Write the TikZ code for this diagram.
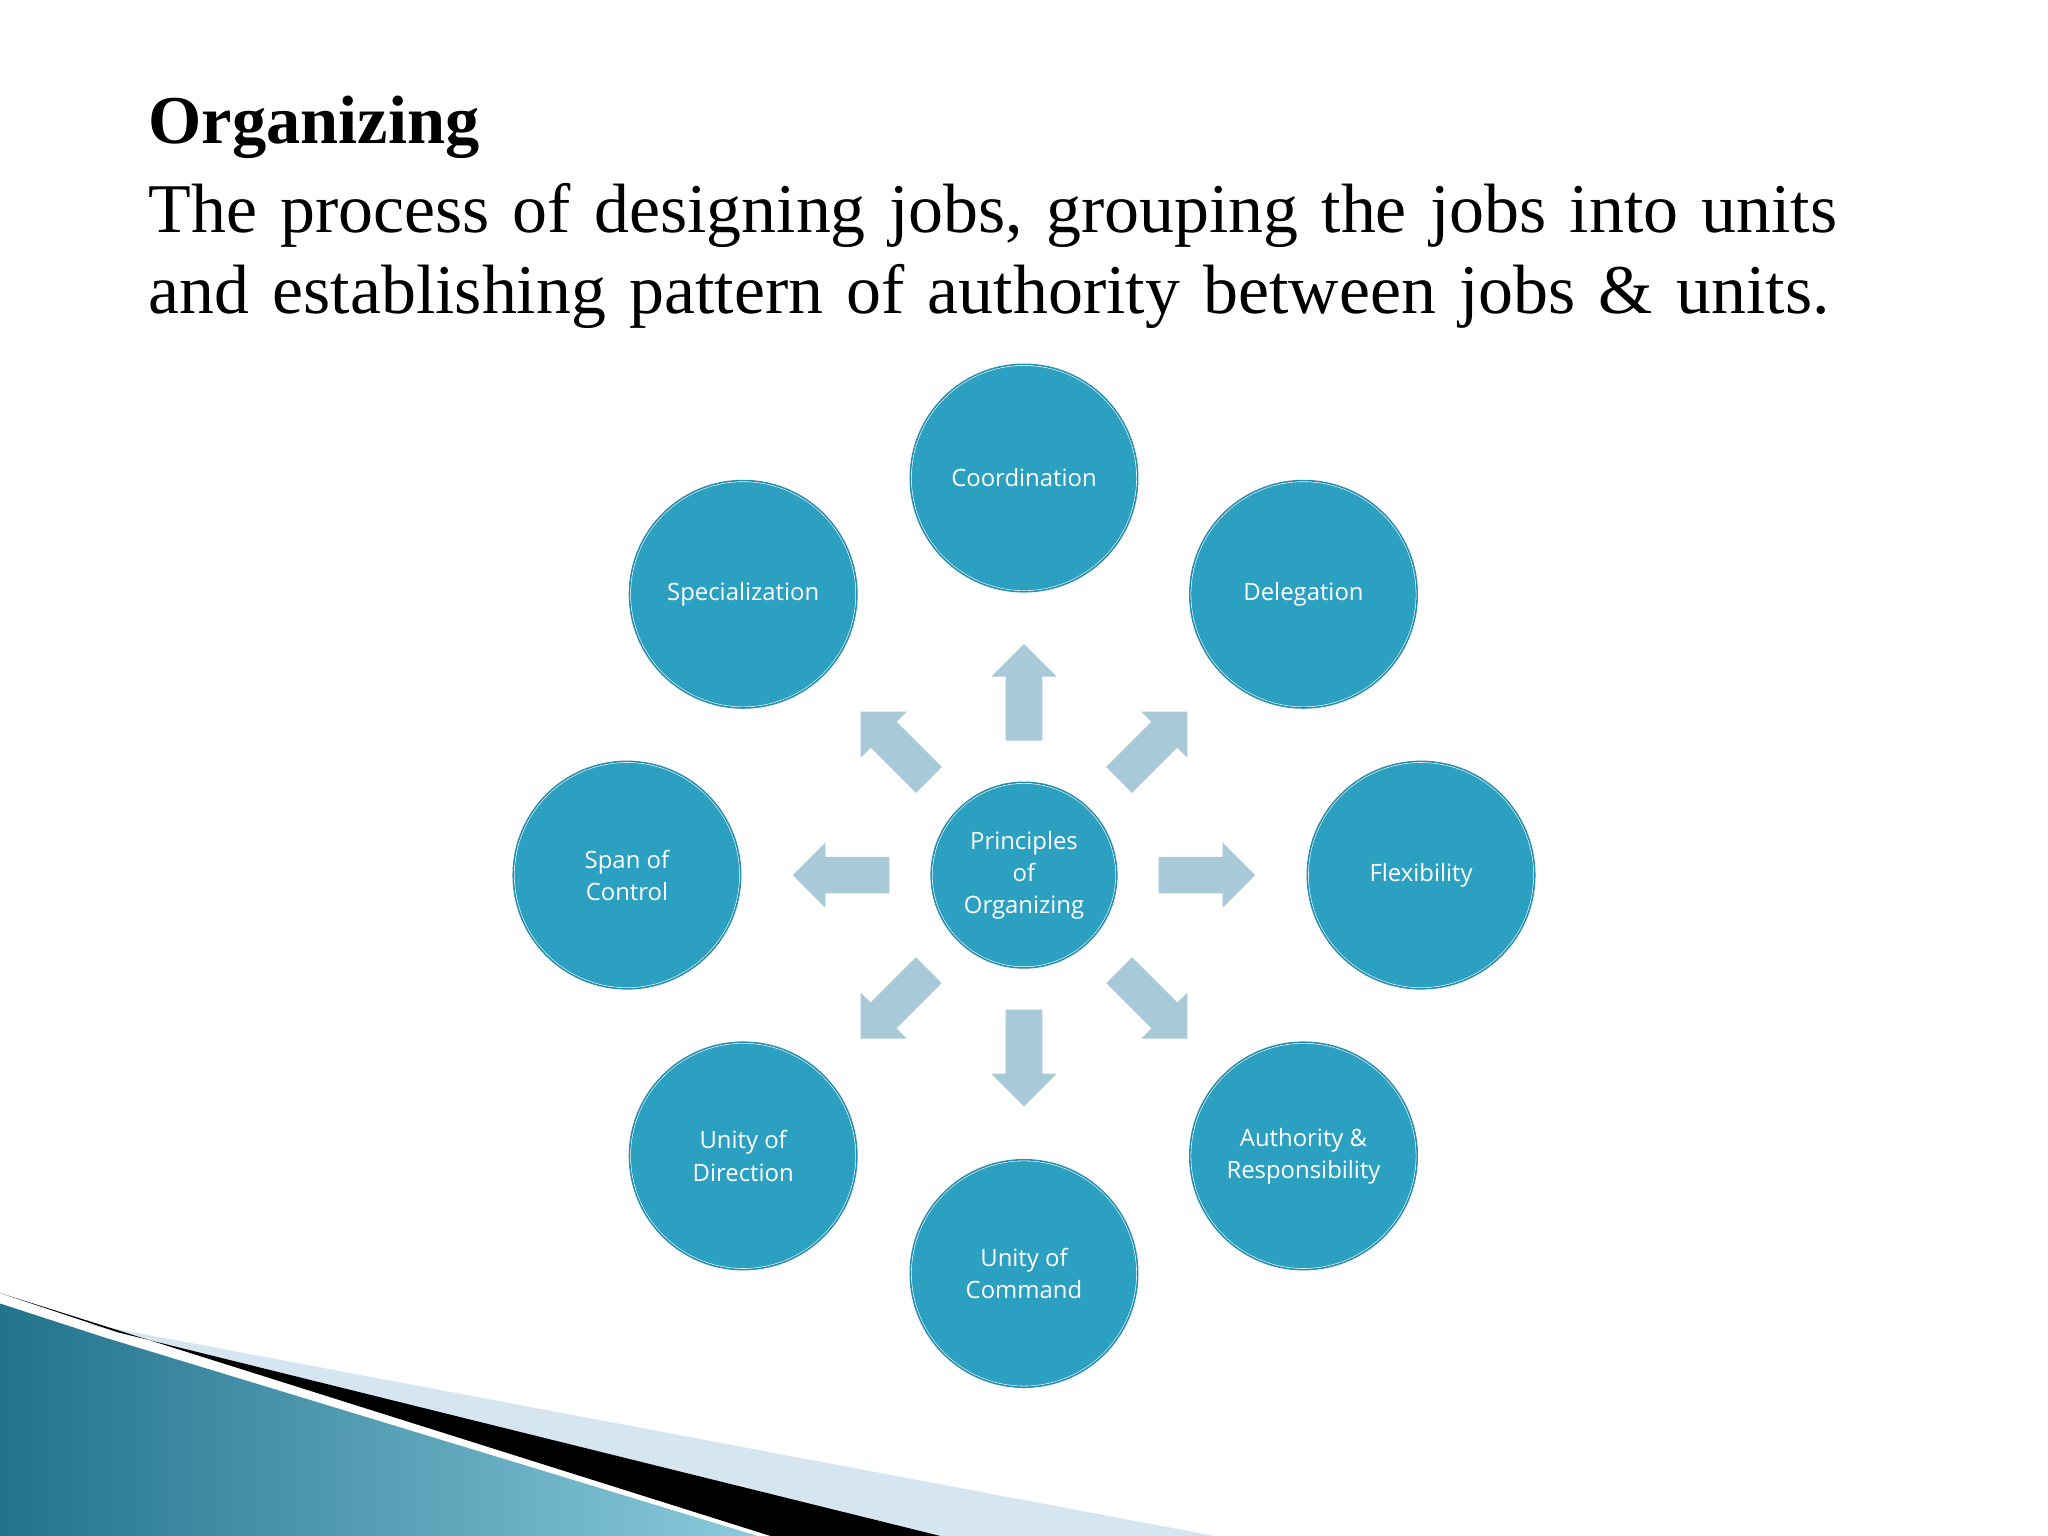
\documentclass[tikz,border=0pt]{standalone}
\usepackage{fontspec}
\setmainfont{Liberation Serif}
\newfontfamily\cfont{Open Sans}
\usetikzlibrary{calc}
\definecolor{circ}{HTML}{2CA0C0}
\definecolor{ring}{HTML}{2A8FAF}
\definecolor{arr}{HTML}{A8CAD8}
\definecolor{band}{HTML}{D5E6F0}
\tikzset{
 pc/.style={circle,fill=circ,draw=white,line width=0.6pt,minimum size=1.74cm,inner sep=0pt,
   text=white,font=\cfont\fontsize{5.2}{7}\selectfont,align=center,
   postaction={draw=ring,line width=0.35pt}},
 pca/.style={pc,minimum size=1.74cm},
 blk/.style={fill=arr,draw=none}
}
\begin{document}
\begin{tikzpicture}[x=0.01cm,y=-0.01cm]
\useasboundingbox (0,0) rectangle (1568,1176);
\fill[white] (0,0) rectangle (1568,1176);
% swoosh
\fill[band] (60,1012) -- (930,1176) -- (700,1176) -- cycle;
\fill[black] (0,990) -- (90,1020) -- (720,1176) -- (590,1176) -- cycle;
\shade[left color=ring!80!black,right color=circ!55!white] (0,998) -- (80,1024) -- (580,1176) -- (0,1176) -- cycle;
% text
\node[anchor=base west,font=\fontsize{14.9}{18}\selectfont\bfseries,inner sep=0] (title) at (113,110) {Organizing};
\node[anchor=north west,inner sep=0,text width=13.6cm,font=\fontsize{15.2}{17.6}\selectfont] (body) at (113,140)
 {\hangindent=0.44cm\hangafter=1 The process of designing jobs, grouping the jobs into units and establishing pattern of authority between jobs \& units.};
% circles
\node[pc,minimum size=1.42cm] (c) at (784,670) {Principles\\of\\Organizing};
\node[pca] (n1) at (784,366) {Coordination};
\node[pca] (n2) at (998,455) {Delegation};
\node[pca] (n3) at (1088,670) {Flexibility};
\node[pca] (n4) at (998,885) {Authority \&\\Responsibility};
\node[pca] (n5) at (784,975) {Unity of\\Command};
\node[pca] (n6) at (569,885) {Unity of\\Direction};
\node[pca] (n7) at (480,670) {Span of\\Control};
\node[pca] (n8) at (569,455) {Specialization};
% arrows
\foreach \a in {90,45,0,-45,-90,-135,180,135}{
  \begin{scope}[shift={(c.center)},rotate=\a]
  \fill[blk] (103,-14) -- (152,-14) -- (152,-25) -- (177,0) -- (152,25) -- (152,14) -- (103,14) -- cycle;
  \end{scope}}
\end{tikzpicture}
\end{document}
